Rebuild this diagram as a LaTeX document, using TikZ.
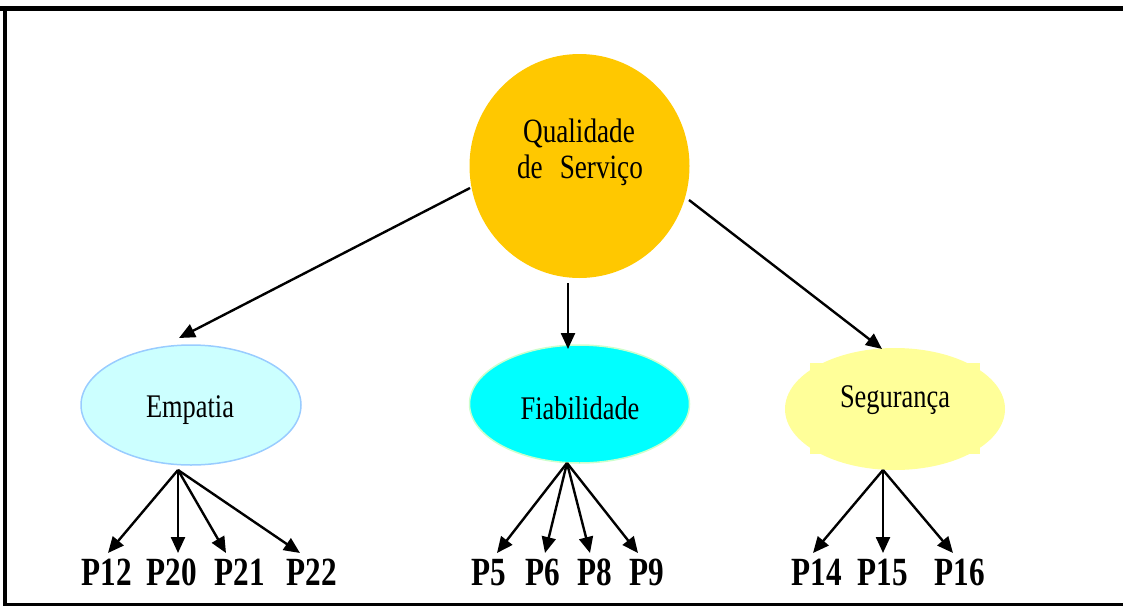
\documentclass[tikz,border=0pt]{standalone}
\usepackage{fontspec}
\usetikzlibrary{arrows.meta,shapes.geometric}
\newfontfamily\condfont[FakeStretch=0.8]{Liberation Serif}
\newfontfamily\condbold[FakeStretch=0.78]{Liberation Serif Bold}
\definecolor{gold}{RGB}{255,200,0}
\definecolor{paleCyan}{RGB}{204,255,255}
\definecolor{paleBlue}{RGB}{153,204,255}
\definecolor{aqua}{RGB}{0,255,255}
\definecolor{paleGreen}{RGB}{204,255,204}
\definecolor{paleYellow}{RGB}{255,255,153}
\tikzset{
  blob/.style={ellipse, inner sep=0pt, minimum width=220pt, minimum height=120pt},
  mainlabel/.style={anchor=base, inner sep=0pt, font=\condfont\fontsize{33}{36}\selectfont},
  itemlabel/.style={anchor=base, inner sep=0pt, font=\condbold\fontsize{40}{44}\selectfont},
  link/.style={line width=2.4pt, -{Triangle[length=16pt,width=14pt]}},
}
\begin{document}
\begin{tikzpicture}[x=1pt,y=-1pt]
\useasboundingbox (0,0) rectangle (1123,608);
% frame, open on the right
\draw[line width=5pt] (0,8) -- (1123,8);
\draw[line width=4pt] (5,6) -- (5,606);
\draw[line width=3pt] (3,604) -- (1123,604);

% central construct
\node[ellipse, fill=gold, inner sep=0pt, minimum width=220pt, minimum height=224pt] (q) at (579.5,166) {};
\node[mainlabel, font=\condfont\fontsize{34}{36}\selectfont] (qt1) at (579,142) {Qualidade};
\node[mainlabel, font=\condfont\fontsize{34}{36}\selectfont] (qt2) at (580,178) {de\enspace Serviço};

% dimensions
\node[blob, fill=paleCyan, draw=paleBlue, line width=1.5pt] (emp) at (191,405) {};
\node[mainlabel] (empt) at (190,417) {Empatia};

\node[blob, fill=aqua, draw=paleGreen, line width=1.5pt, minimum height=118pt] (fia) at (579.5,404) {};
\node[mainlabel] (fiat) at (580,419) {Fiabilidade};

\fill[paleYellow] (810,363) rectangle (980,454);
\node[blob, fill=paleYellow, minimum height=122pt] (seg) at (895,409) {};
\node[mainlabel] (segt) at (895,407) {Segurança};

% arrows from the central construct
\coordinate (qa) at (470,188);
\coordinate (qb) at (568,283);
\coordinate (qc) at (689,200);
\coordinate (ea) at (179,338);
\coordinate (fa) at (568,349);
\coordinate (sa) at (882,349);
\draw[link] (qa) -- (ea);
\draw[link] (qb) -- (fa);
\draw[link] (qc) -- (sa);

% items
\node[itemlabel] (p12) at (107,585) {P12};
\node[itemlabel] (p20) at (172,585) {P20};
\node[itemlabel] (p21) at (240,585) {P21};
\node[itemlabel] (p22) at (312,585) {P22};
\node[itemlabel] (p5) at (489,585) {P5};
\node[itemlabel] (p6) at (543,585) {P6};
\node[itemlabel] (p8) at (595,585) {P8};
\node[itemlabel] (p9) at (647,585) {P9};
\node[itemlabel] (p14) at (817,585) {P14};
\node[itemlabel] (p15) at (883,585) {P15};
\node[itemlabel] (p16) at (960,585) {P16};

\coordinate (es) at (178,470);
\coordinate (fs) at (567,463);
\coordinate (ss) at (883,470);
\coordinate (t12) at (108,553);
\coordinate (t20) at (178,553);
\coordinate (t21) at (226,553);
\coordinate (t22) at (300,553);
\coordinate (t5) at (497,553);
\coordinate (t6) at (545,553);
\coordinate (t8) at (590,553);
\coordinate (t9) at (638,553);
\coordinate (t14) at (813,553);
\coordinate (t15) at (883,553);
\coordinate (t16) at (953,553);
\foreach \t in {t12,t20,t21,t22} \draw[link] (es) -- (\t);
\foreach \t in {t5,t6,t8,t9} \draw[link] (fs) -- (\t);
\foreach \t in {t14,t15,t16} \draw[link] (ss) -- (\t);
\end{tikzpicture}
\end{document}
